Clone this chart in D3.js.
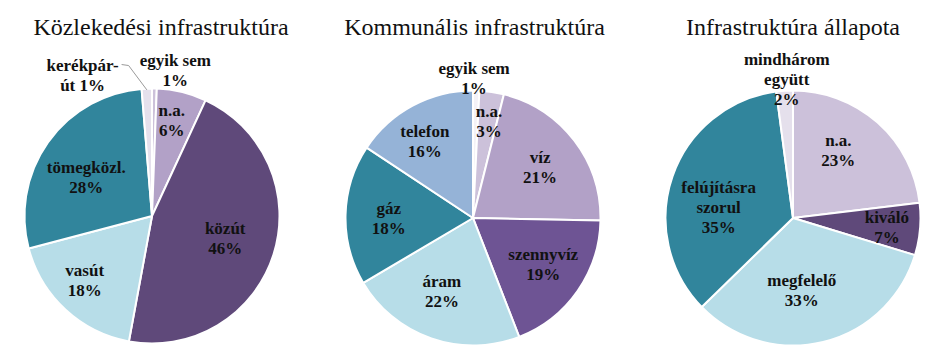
<!DOCTYPE html>
<html><head><meta charset="utf-8">
<script src="https://cdn.jsdelivr.net/npm/d3@7"></script>
<style>body{margin:0;background:#fff} svg{display:block}</style>
</head><body>
<svg id="chart" width="945" height="354"></svg>
<script>
// ---- data ----
const titles = ["Közlekedési infrastruktúra", "Kommunális infrastruktúra", "Infrastruktúra állapota"];

const cats1 = ["egyik sem", "n.a.", "közút", "vasút", "tömegközl.", "kerékpár-\nút {p}"];
const vals1 = [0.6, 6.3, 46.0, 18.0, 27.8, 1.3];

const cats2 = ["egyik sem", "n.a.", "víz", "szennyvíz", "áram", "gáz", "telefon"];
const vals2 = [0.8, 3.1, 21.4, 18.8, 22.4, 17.8, 15.7];

const cats3 = ["n.a.", "kiváló", "megfelelő", "felújításra\nszorul", "mindhárom\negyütt"];
const vals3 = [23.1, 6.6, 33.0, 35.2, 2.1];

// ---- styles / layout ----
const cols1 = ["#ccc1da", "#b2a1c7", "#5f497a", "#b7dde8", "#31859c", "#e5e0ec"];
const cols2 = ["#f4f2f7", "#ccc1da", "#b2a1c7", "#6e5494", "#b7dde8", "#31859c", "#95b3d7"];
const cols3 = ["#ccc1da", "#5f497a", "#b7dde8", "#31859c", "#e5e0ec"];

// label placement relative to slice mid-angle: angle shift (deg), distance (fraction of radius)
const turn1 = [8, -1.9, -0.8, 3.5, -4.5, -23.8];
const dist1 = [1.157, 0.77, 0.6, 0.73, 0.6, 1.236];
const turn2 = [-1, 0.9, 0.3, -1.5, 4.1, -1.4, -3.9];
const dist2 = [1.10, 0.77, 0.66, 0.66, 0.62, 0.66, 0.71];
const turn3 = [-7.8, 0.6, 6.8, -10.5, 1.2];
const dist3 = [0.64, 0.74, 0.57, 0.59, 1.09];
const leader1 = [false, false, false, false, false, true];

const charts = [
  {title: titles[0], cats: cats1, vals: vals1, cols: cols1, turn: turn1, dist: dist1, leader: leader1, cx: 152, cy: 216, tx: 161},
  {title: titles[1], cats: cats2, vals: vals2, cols: cols2, turn: turn2, dist: dist2, leader: [], cx: 473, cy: 218, tx: 474.5},
  {title: titles[2], cats: cats3, vals: vals3, cols: cols3, turn: turn3, dist: dist3, leader: [], cx: 793, cy: 218, tx: 793}
];

const R = 127.5;
const lineH = 20;
const FONT = "Liberation Serif";
const svg = d3.select("#chart");
svg.append("rect").attr("width", 945).attr("height", 354).attr("fill", "#fff");

charts.forEach(c => {
  svg.append("text")
    .attr("x", c.tx).attr("y", 35)
    .attr("text-anchor", "middle")
    .attr("font-family", FONT)
    .attr("font-size", 24)
    .attr("fill", "#111")
    .text(c.title);

  const g = svg.append("g").attr("transform", `translate(${c.cx},${c.cy})`);
  const total = d3.sum(c.vals);
  const arcs = d3.pie().sort(null).value(d => d)(c.vals);
  const arc = d3.arc().innerRadius(0).outerRadius(R);

  g.selectAll("path.slice").data(arcs).join("path")
    .attr("class", "slice")
    .attr("d", arc)
    .attr("fill", (d, i) => c.cols[i])
    .attr("stroke", "#fff")
    .attr("stroke-width", 2)
    .attr("stroke-linejoin", "round");

  arcs.forEach((d, i) => {
    const midRaw = (d.startAngle + d.endAngle) / 2;
    const mid = midRaw + c.turn[i] * Math.PI / 180;
    const rr = R * c.dist[i];
    const x = rr * Math.sin(mid), y = -rr * Math.cos(mid);
    const pct = Math.round(100 * d.data / total) + "%";
    const name = c.cats[i];
    const lines = name.includes("{p}") ? name.replace("{p}", pct).split("\n") : name.split("\n").concat([pct]);
    const n = lines.length;
    const t = g.append("text")
      .attr("text-anchor", "middle")
      .attr("font-family", FONT)
      .attr("font-weight", "bold")
      .attr("font-size", 17)
      .attr("fill", "#111");
    lines.forEach((ln, k) => {
      t.append("tspan").attr("x", x).attr("y", y - (n - 1) * lineH / 2 + k * lineH + 6).text(ln);
    });
    if (c.leader[i]) {
      const w = t.select("tspan").node().getComputedTextLength();
      const y0 = y - (n - 1) * lineH / 2;
      const p0 = [x + w / 2 + 3, y0];
      const p1 = [p0[0] + 7, y0 + 1];
      const p2 = [R * 0.99 * Math.sin(midRaw), -R * 0.99 * Math.cos(midRaw)];
      g.append("path")
        .attr("d", d3.line()([p0, p1, p2]))
        .attr("fill", "none")
        .attr("stroke", "#9a9a9a")
        .attr("stroke-width", 1);
    }
  });
});
</script>
</body></html>
